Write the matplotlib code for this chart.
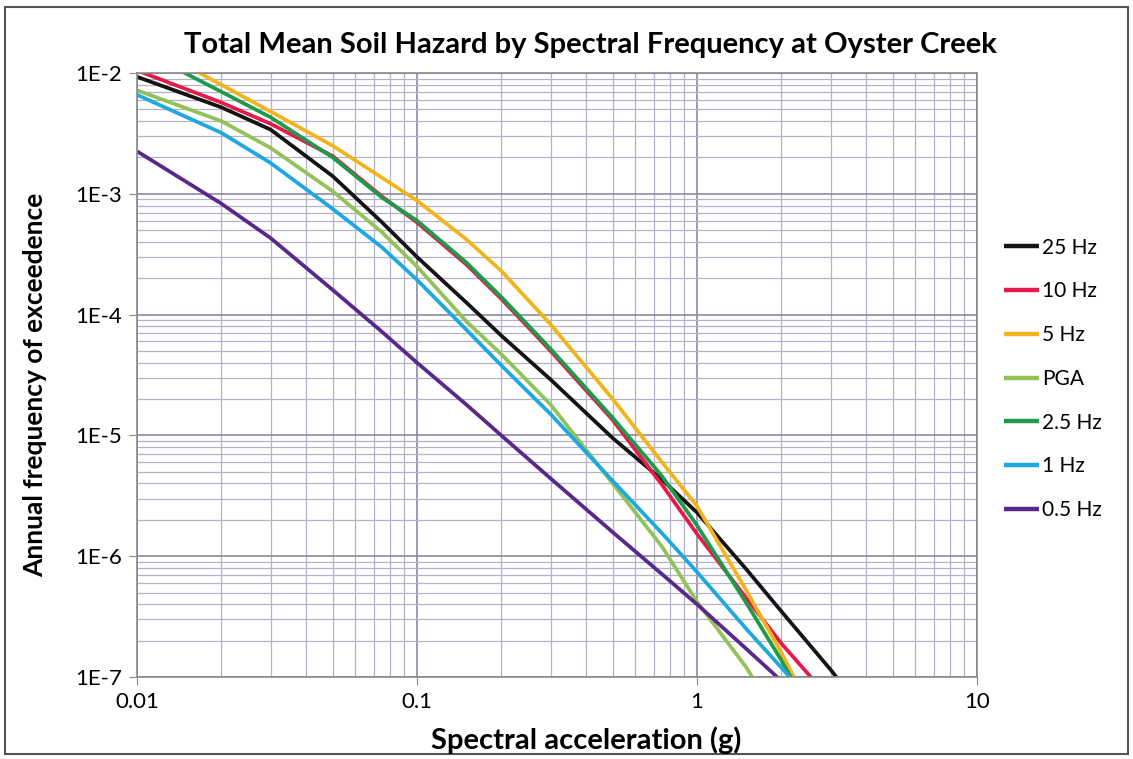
import matplotlib
matplotlib.use("Agg")
import matplotlib.pyplot as plt
from matplotlib.ticker import FixedLocator, NullFormatter, FixedFormatter
from matplotlib.patches import Rectangle

# Spectral acceleration (g)
accel = [0.01, 0.02, 0.03, 0.05, 0.075, 0.1, 0.15, 0.2, 0.3, 0.5, 0.75, 1.0, 1.5, 2.0, 3.0, 5.0]

hz25  = [9.3e-3, 5.2e-3, 3.4e-3, 1.4e-3, 5.8e-4, 3.0e-4, 1.26e-4, 6.7e-5, 2.9e-5, 9.5e-6, 4.3e-6, 2.3e-6, 7.8e-7, 3.5e-7, 1.15e-7, 2.5e-8]
hz10  = [1.05e-2, 5.7e-3, 3.8e-3, 2.05e-3, 9.5e-4, 5.8e-4, 2.6e-4, 1.35e-4, 5.0e-5, 1.34e-5, 3.9e-6, 1.53e-6, 4.5e-7, 1.9e-7, 6.5e-8, 1.5e-8]
hz5   = [1.9e-2, 8.0e-3, 4.8e-3, 2.5e-3, 1.36e-3, 8.8e-4, 4.2e-4, 2.3e-4, 8.3e-5, 2.0e-5, 6.0e-6, 2.6e-6, 5.2e-7, 1.6e-7, 2.5e-8, 5.0e-9]
pga   = [7.2e-3, 4.0e-3, 2.4e-3, 1.05e-3, 4.8e-4, 2.5e-4, 8.8e-5, 4.7e-5, 1.8e-5, 4.0e-6, 1.2e-6, 4.2e-7, 1.2e-7, 4.0e-8, 8.0e-9, 1.0e-9]
hz2_5 = [1.6e-2, 7.0e-3, 4.3e-3, 2.0e-3, 9.3e-4, 6.0e-4, 2.7e-4, 1.4e-4, 5.2e-5, 1.4e-5, 4.6e-6, 1.8e-6, 4.1e-7, 1.38e-7, 2.5e-8, 3.0e-9]
hz1   = [6.6e-3, 3.2e-3, 1.8e-3, 7.5e-4, 3.6e-4, 1.94e-4, 7.5e-5, 3.8e-5, 1.5e-5, 4.2e-6, 1.55e-6, 7.4e-7, 2.5e-7, 1.2e-7, 4.0e-8, 8.0e-9]
hz0_5 = [2.25e-3, 8.3e-4, 4.3e-4, 1.6e-4, 7.2e-5, 4.0e-5, 1.8e-5, 1.0e-5, 4.4e-6, 1.58e-6, 7.1e-7, 4.0e-7, 1.71e-7, 9.3e-8, 4.0e-8, 1.2e-8]

series_names = ["25 Hz", "10 Hz", "5 Hz", "PGA", "2.5 Hz", "1 Hz", "0.5 Hz"]
series_vals = [hz25, hz10, hz5, pga, hz2_5, hz1, hz0_5]
series_colors = ["#141414", "#e5194a", "#f2b41c", "#93c15a", "#1f9a4a", "#1fa8e0", "#58288a"]

x_ticks = [0.01, 0.1, 1, 10]
x_ticklabels = ["0.01", "0.1", "1", "10"]
y_ticks = [1e-7, 1e-6, 1e-5, 1e-4, 1e-3, 1e-2]
y_ticklabels = ["1E-7", "1E-6", "1E-5", "1E-4", "1E-3", "1E-2"]

title = "Total Mean Soil Hazard by Spectral Frequency at Oyster Creek"
xlabel = "Spectral acceleration (g)"
ylabel = "Annual frequency of exceedence"

plt.rcParams['font.family'] = ['Lato', 'DejaVu Sans']

W, H = 1133, 759
fig = plt.figure(figsize=(W / 100, H / 100), dpi=100)
fig.patch.set_facecolor("white")
# outer chart border
fig.patches.append(Rectangle((5 / W, 5 / H), 1 - 10 / W, 1 - 12 / H, transform=fig.transFigure,
                             fill=False, edgecolor="#555555", linewidth=1.5))

ax = fig.add_axes([137 / W, 1 - 677 / H, (977 - 137) / W, (677 - 73) / H])
ax.set_xscale("log")
ax.set_yscale("log")
ax.set_xlim(0.01, 10)
ax.set_ylim(1e-7, 1e-2)

minor_x = [m * 10.0**e for e in range(-2, 1) for m in range(2, 10)]
minor_y = [m * 10.0**e for e in range(-7, -2) for m in range(2, 10)]
ax.xaxis.set_major_locator(FixedLocator(x_ticks))
ax.xaxis.set_major_formatter(FixedFormatter(x_ticklabels))
ax.xaxis.set_minor_locator(FixedLocator(minor_x))
ax.xaxis.set_minor_formatter(NullFormatter())
ax.yaxis.set_major_locator(FixedLocator(y_ticks))
ax.yaxis.set_major_formatter(FixedFormatter(y_ticklabels))
ax.yaxis.set_minor_locator(FixedLocator(minor_y))
ax.yaxis.set_minor_formatter(NullFormatter())

ax.grid(which="major", color="#8a8aa4", linewidth=1.2)
ax.grid(which="minor", color="#b2b2c8", linewidth=0.9)
ax.set_axisbelow(True)

for name, vals, col in zip(series_names, series_vals, series_colors):
    ax.plot(accel, vals, color=col, linewidth=2.7, label=name, solid_capstyle="butt")

for sp in ax.spines.values():
    sp.set_color("#8a8a8a")
    sp.set_linewidth(1.2)
ax.tick_params(which="major", length=6, color="#8a8a8a", labelsize=16, pad=5)
ax.tick_params(which="minor", length=0)

fig.text(590 / W, 1 - 45 / H, title, fontsize=21, fontweight="bold", ha="center", va="center")
fig.text(586 / W, 1 - 740 / H, xlabel, fontsize=21, fontweight="bold", ha="center", va="center")
fig.text(35 / W, 1 - 385 / H, ylabel, fontsize=19, fontweight="bold", ha="center", va="center",
         rotation=90)

leg = ax.legend(loc="upper left", bbox_to_anchor=(985 / W, 1 - 219 / H), bbox_transform=fig.transFigure,
                frameon=False, fontsize=15, handlelength=1.7, handletextpad=0.15, labelspacing=1.14,
                borderpad=0.4)
for line in leg.get_lines():
    line.set_linewidth(3.2)

fig.savefig("out.png", dpi=100, facecolor="white")
